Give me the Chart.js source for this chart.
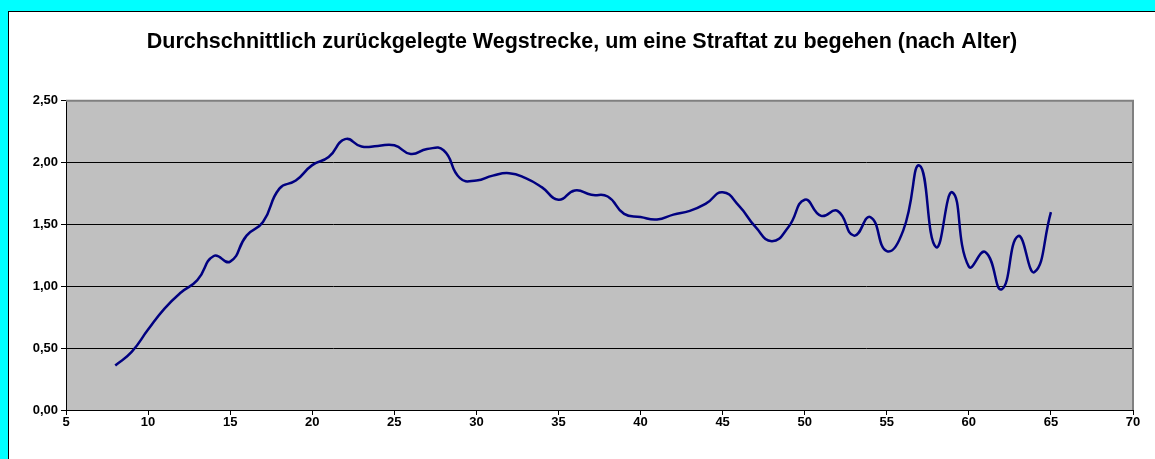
<!DOCTYPE html>
<html>
<head>
<meta charset="utf-8">
<script src="https://cdn.jsdelivr.net/npm/chart.js@4"></script>
<style>
    html, body { margin: 0; padding: 0; background: #00ffff; overflow: hidden; }
    #frame {
        position: absolute; left: 8px; top: 11px;
        width: 1147px; height: 448px;
        background: #ffffff;
        border-left: 1px solid #000; border-top: 1px solid #000;
    }
    #chart { display: block; }
</style>
</head>
<body>
<div id="frame"><canvas id="chart" width="1146" height="447"></canvas></div>
<script>
// Daten (Alter -> Wegstrecke)
const ages = [8, 9, 10, 11, 12, 13, 14, 15, 16, 17, 18, 19, 20, 21, 22, 23, 24, 25, 26, 27, 28,
    29, 30, 31, 32, 33, 34, 35, 36, 37, 38, 39, 40, 41, 42, 43, 44, 45, 46, 47, 48, 49,
    50, 51, 52, 53, 54, 55, 56, 57, 58, 59, 60, 61, 62, 63, 64, 65];
const distance = [0.36, 0.47, 0.65, 0.82, 0.95, 1.05, 1.245, 1.20, 1.41, 1.52, 1.79, 1.855, 1.98, 2.045, 2.19, 2.13, 2.135, 2.14,
    2.07, 2.11, 2.10, 1.875, 1.855, 1.895, 1.915, 1.875, 1.80, 1.70, 1.775, 1.74, 1.726, 1.586, 1.56, 1.54,
    1.58, 1.61, 1.67, 1.76, 1.65, 1.48, 1.365, 1.478, 1.70, 1.57, 1.61, 1.41, 1.56, 1.285, 1.45, 1.976,
    1.317, 1.76, 1.16, 1.277, 0.976, 1.406, 1.115, 1.60];
const xTicks = [5, 10, 15, 20, 25, 30, 35, 40, 45, 50, 55, 60, 65, 70];
const yTicks = [0, 0.5, 1, 1.5, 2, 2.5];

const fontFamily = 'Arial, "Liberation Sans", sans-serif';
const tickFont = { family: fontFamily, size: 13, weight: 'bold' };

// Grauer Plotbereich + Rahmen oben/rechts
const plotArea = {
    id: 'plotArea',
    beforeDraw(chart) {
        const a = chart.chartArea, c = chart.ctx;
        c.save();
        c.fillStyle = '#c0c0c0';
        c.fillRect(a.left, a.top, a.right - a.left, a.bottom - a.top);
        c.restore();
    },
    afterDatasetsDraw(chart) {
        const a = chart.chartArea, c = chart.ctx;
        c.save();
        c.strokeStyle = '#808080';
        c.lineWidth = 2;
        c.beginPath();
        c.moveTo(a.left, a.top);
        c.lineTo(a.right, a.top);
        c.lineTo(a.right, a.bottom);
        c.stroke();
        c.restore();
    }
};

new Chart(document.getElementById('chart'), {
    type: 'line',
    data: {
        datasets: [{
            data: ages.map((a, i) => ({ x: a, y: distance[i] })),
            borderColor: '#000080',
            borderWidth: 2.5,
            pointRadius: 0,
            tension: 0.5,
            fill: false
        }]
    },
    options: {
        responsive: false,
        animation: false,
        layout: { padding: { left: 22, right: 22, top: 0, bottom: 0 } },
        plugins: {
            legend: { display: false },
            tooltip: { enabled: false },
            title: {
                display: true,
                text: 'Durchschnittlich zurückgelegte Wegstrecke, um eine Straftat zu begehen (nach Alter)',
                color: '#000',
                font: { family: fontFamily, size: 21.5, weight: 'bold' },
                padding: { top: 17, bottom: 46 }
            }
        },
        scales: {
            x: {
                type: 'linear',
                min: 5,
                max: 70,
                afterBuildTicks: s => { s.ticks = xTicks.map(v => ({ value: v })); },
                afterFit: s => { s.height = 49; },
                grid: { drawOnChartArea: false, drawTicks: true, tickLength: 5, color: '#000' },
                border: { color: '#000', width: 1 },
                ticks: { color: '#000', font: tickFont, padding: 0, maxRotation: 0 }
            },
            y: {
                min: 0,
                max: 2.5,
                afterBuildTicks: s => { s.ticks = yTicks.map(v => ({ value: v })); },
                afterFit: s => { s.width = 35; },
                grid: {
                    color: ctx => ctx.tick && ctx.tick.value === 2.5 ? 'rgba(0,0,0,0)' : '#000',
                    tickColor: '#000',
                    tickLength: 5,
                    lineWidth: 1
                },
                border: { color: '#000', width: 1 },
                ticks: {
                    color: '#000',
                    font: tickFont,
                    padding: 3,
                    callback: v => v.toFixed(2).replace('.', ',')
                }
            }
        }
    },
    plugins: [plotArea]
});
</script>
</body>
</html>
